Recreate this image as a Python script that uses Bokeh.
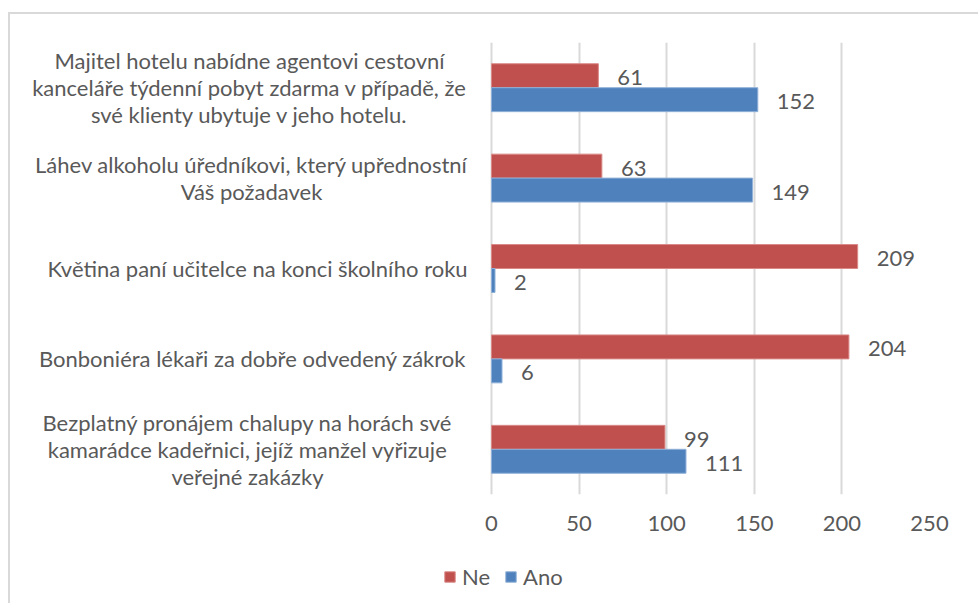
from bokeh.plotting import figure
from bokeh.layouts import column
from bokeh.models import (FactorRange, Range1d, FixedTicker, Legend, LegendItem,
                          ColumnDataSource)
from bokeh.transform import dodge
from bokeh.core.properties import value
from bokeh.embed import file_html
from bokeh.resources import INLINE

# ---- data (top to bottom as in the chart) ----
categories = [
    "Majitel hotelu nabídne agentovi cestovní kanceláře týdenní pobyt zdarma v případě, že své klienty ubytuje v jeho hotelu.",
    "Láhev alkoholu úředníkovi, který upřednostní Váš požadavek",
    "Květina paní učitelce na konci školního roku",
    "Bonboniéra lékaři za dobře odvedený zákrok",
    "Bezplatný pronájem chalupy na horách své kamarádce kadeřnici, jejíž manžel vyřizuje veřejné zakázky",
]
label_lines = [
    ["Majitel hotelu nabídne agentovi cestovní", "kanceláře týdenní pobyt zdarma v případě, že", "své klienty ubytuje v jeho hotelu."],
    ["Láhev alkoholu úředníkovi, který upřednostní", "Váš požadavek"],
    ["Květina paní učitelce na konci školního roku"],
    ["Bonboniéra lékaři za dobře odvedený zákrok"],
    ["Bezplatný pronájem chalupy na horách své", "kamarádce kadeřnici, jejíž manžel vyřizuje", "veřejné zakázky"],
]
ne = [61, 63, 209, 204, 99]
ano = [152, 149, 2, 6, 111]
x_ticks = [0, 50, 100, 150, 200, 250]
series_names = ["Ne", "Ano"]

# ---- style ----
RED = "#C0504D"
BLUE = "#4F81BD"
TXT = "#595959"
GRID = "#D9D9D9"
FONT = "Lato"
FS = "22px"
PX_PER_UNIT = 1.752
label_center_px = [-242, -240, -234, -239, -244]  # block centers, px left of x=0
line_gap = 27

src = ColumnDataSource(dict(
    cat=categories, ne=ne, ano=ano,
    ne_s=[str(v) for v in ne], ano_s=[str(v) for v in ano],
))

lx, ly, lt, lo = [], [], [], []
for cat, lines, cpx in zip(categories, label_lines, label_center_px):
    n = len(lines)
    for i, t in enumerate(lines):
        lx.append(cpx / PX_PER_UNIT)
        ly.append(cat)
        lt.append(t)
        lo.append((i - (n - 1) / 2) * line_gap)
lab_src = ColumnDataSource(dict(x=lx, y=ly, t=lt, o=lo))

p = figure(
    width=968, height=540,
    y_range=FactorRange(factors=categories[::-1], range_padding=0),
    x_range=Range1d(-475 / PX_PER_UNIT, 250),
    output_backend="svg", toolbar_location=None, y_axis_location=None,
    min_border_left=6, min_border_right=49, min_border_top=28, min_border_bottom=60,
)
p.outline_line_color = None
p.background_fill_color = "white"
p.border_fill_color = "white"
p.ygrid.visible = False
p.xgrid.grid_line_color = GRID
p.xgrid.grid_line_width = 2
p.xaxis.ticker = FixedTicker(ticks=x_ticks)
p.xaxis.axis_line_color = None
p.xaxis.major_tick_line_color = None
p.xaxis.minor_tick_line_color = None
p.xaxis.major_tick_out = 0
p.xaxis.major_tick_in = 0
p.xaxis.major_label_standoff = 21
p.xaxis.major_label_text_font = FONT
p.xaxis.major_label_text_font_size = FS
p.xaxis.major_label_text_color = TXT

off = 0.1325
h = 0.265
p.hbar(y=dodge("cat", off, range=p.y_range), left=0, right="ne", height=h,
       fill_color=RED, line_color="#D98A88", line_width=1, source=src)
p.hbar(y=dodge("cat", -off, range=p.y_range), left=0, right="ano", height=h,
       fill_color=BLUE, line_color="#8FB0D8", line_width=1, source=src)

p.text(x="ne", y=dodge("cat", off, range=p.y_range), text="ne_s", source=src,
       x_offset=19, y_offset=2, text_align="left", text_baseline="middle",
       text_font=value(FONT), text_font_size=FS, text_color=TXT)
p.text(x="ano", y=dodge("cat", -off, range=p.y_range), text="ano_s", source=src,
       x_offset=19, y_offset=2, text_align="left", text_baseline="middle",
       text_font=value(FONT), text_font_size=FS, text_color=TXT)

p.text(x="x", y="y", text="t", y_offset="o", source=lab_src,
       text_align="center", text_baseline="middle",
       text_font=value(FONT), text_font_size=FS, text_color=TXT)

# ---- legend strip (dummy renderers lie outside the strip's ranges) ----
pl = figure(width=968, height=49, x_range=Range1d(0, 1), y_range=Range1d(0, 1),
            output_backend="svg", toolbar_location=None,
            x_axis_location=None, y_axis_location=None,
            min_border_left=0, min_border_right=0, min_border_top=0, min_border_bottom=0)
pl.outline_line_color = None
pl.xgrid.visible = False
pl.ygrid.visible = False
pl.border_fill_color = "white"
dummy = ColumnDataSource(dict(y=[-5], l=[-5], r=[-4]))
l_ne = pl.hbar(y="y", left="l", right="r", height=0.1, source=dummy,
               fill_color=RED, line_color="#D98A88", line_width=1)
l_ano = pl.hbar(y="y", left="l", right="r", height=0.1, source=dummy,
                fill_color=BLUE, line_color="#8FB0D8", line_width=1)
legend = Legend(
    items=[LegendItem(label=series_names[0], renderers=[l_ne]),
           LegendItem(label=series_names[1], renderers=[l_ano])],
    orientation="horizontal", location=(427, 13),
    border_line_color=None, background_fill_alpha=0,
    padding=0, margin=0, spacing=14, label_standoff=6,
    glyph_width=13, glyph_height=13, label_height=20,
    label_text_font=FONT, label_text_font_size=FS, label_text_color=TXT,
)
pl.add_layout(legend)

layout = column(p, pl, spacing=0,
                styles={"border-top": "2px solid #D9D9D9",
                        "border-left": "2px solid #D9D9D9",
                        "margin-top": "12px", "margin-left": "8px"})

open("out.html", "w").write(file_html(layout, INLINE))
